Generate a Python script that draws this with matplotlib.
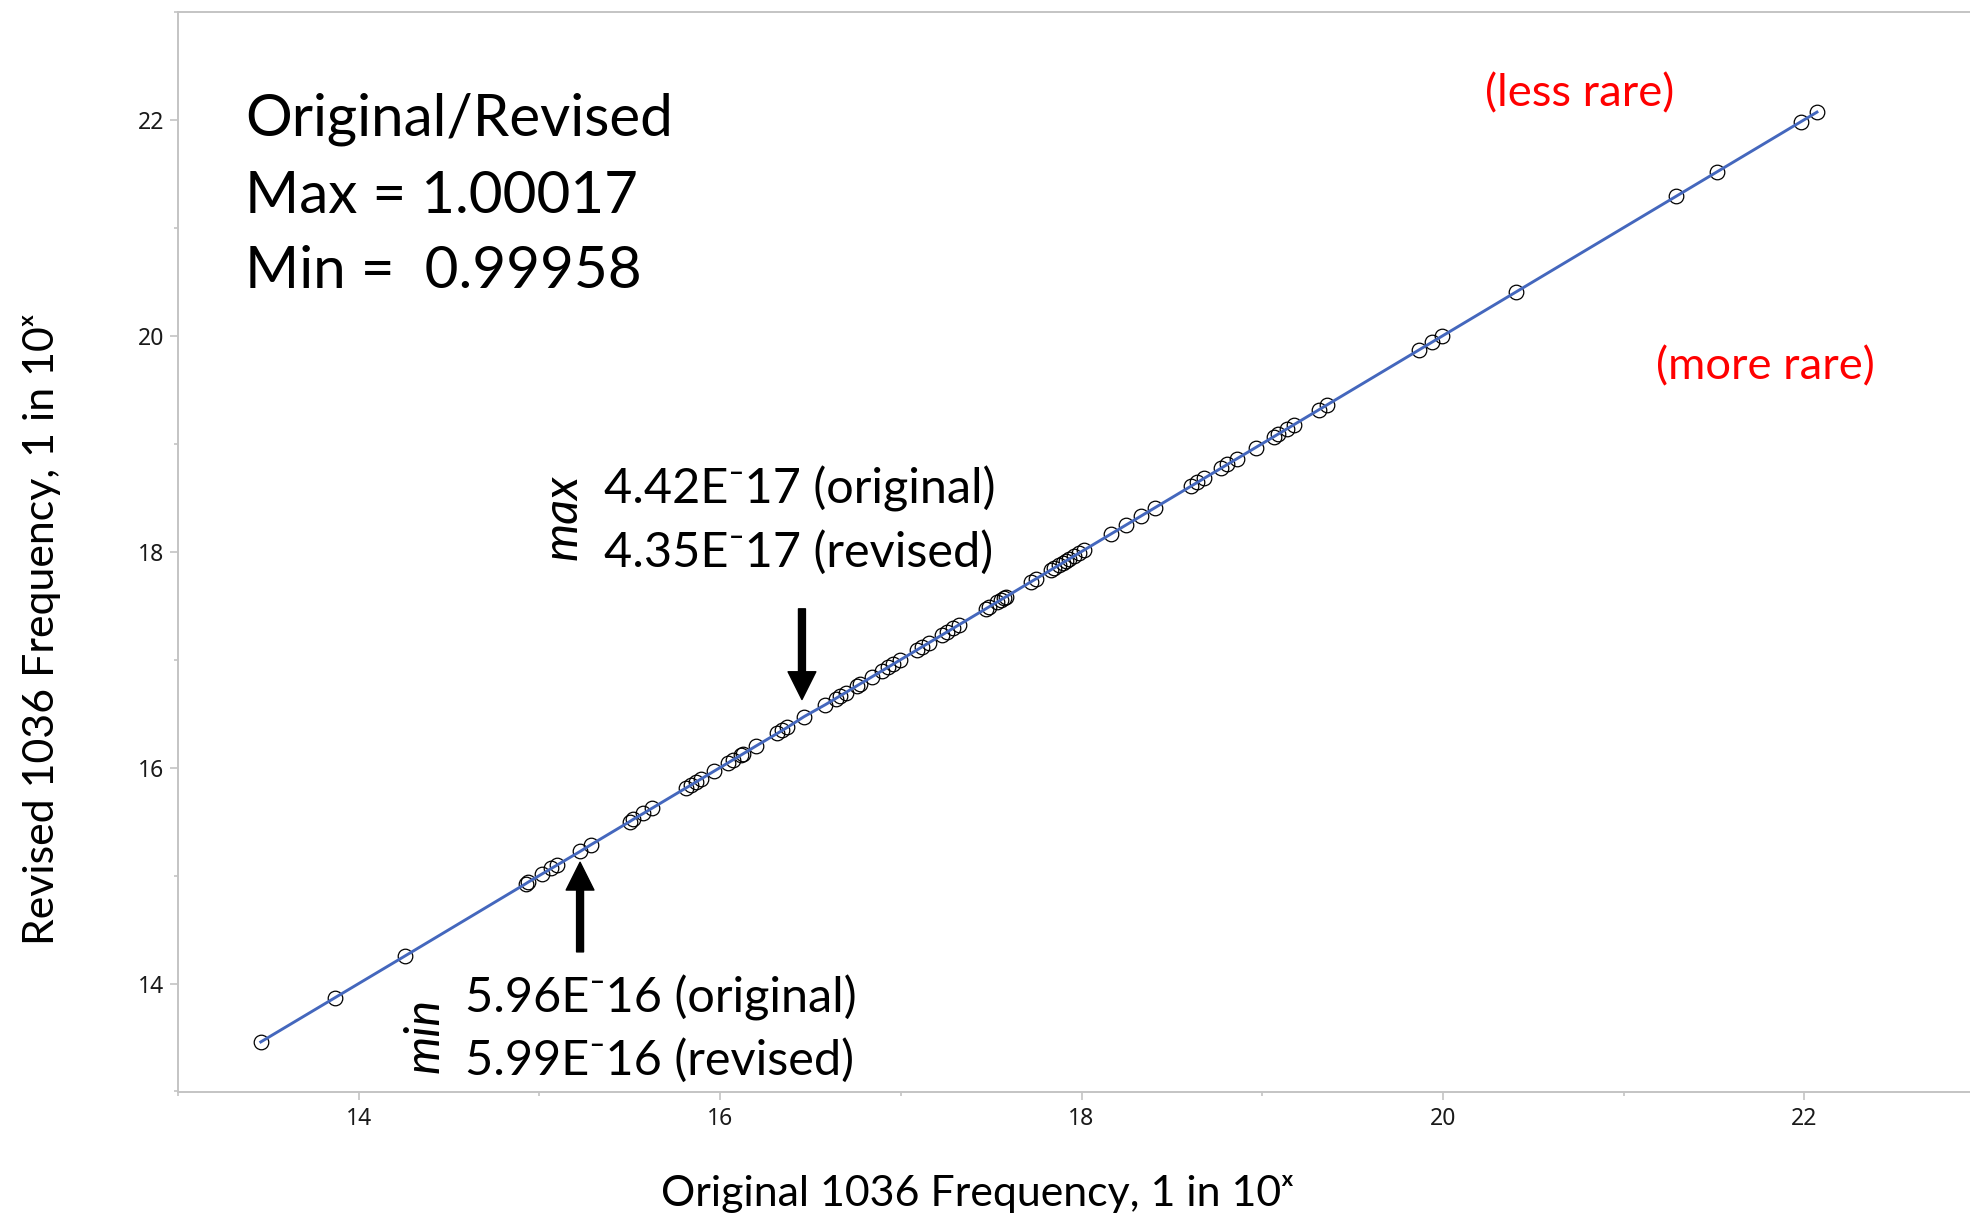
#!/usr/bin/env python3

import matplotlib
from matplotlib.ticker import FixedLocator

matplotlib.use('Agg')

import matplotlib.pyplot as plt  # noqa: E402

# log10 of "1 in 10^x" frequencies
ORIGINAL = [13.458, 13.867, 14.258, 14.924, 14.937, 15.017, 15.066, 15.096, 15.225, 15.284,
            15.500, 15.520, 15.575, 15.625, 15.810, 15.837, 15.865, 15.892, 15.966, 16.044,
            16.073, 16.114, 16.128, 16.196, 16.316, 16.344, 16.371, 16.463, 16.583, 16.639,
            16.662, 16.694, 16.758, 16.773, 16.841, 16.897, 16.928, 16.957, 16.998, 17.091,
            17.118, 17.155, 17.230, 17.257, 17.290, 17.322, 17.470, 17.489, 17.535, 17.553,
            17.572, 17.580, 17.719, 17.747, 17.830, 17.848, 17.876, 17.895, 17.913, 17.931,
            17.959, 17.987, 18.014, 18.162, 18.245, 18.328, 18.405, 18.604, 18.641, 18.678,
            18.770, 18.807, 18.862, 18.964, 19.065, 19.087, 19.139, 19.176, 19.314, 19.357,
            19.870, 19.940, 19.994, 20.404, 21.289, 21.515, 21.980, 22.070]
REVISED = [13.459, 13.867, 14.257, 14.924, 14.938, 15.017, 15.066, 15.095, 15.223, 15.284,
           15.500, 15.521, 15.575, 15.625, 15.810, 15.836, 15.865, 15.892, 15.966, 16.044,
           16.073, 16.114, 16.128, 16.197, 16.316, 16.344, 16.371, 16.470, 16.583, 16.639,
           16.662, 16.694, 16.758, 16.773, 16.841, 16.897, 16.928, 16.957, 16.998, 17.091,
           17.118, 17.155, 17.230, 17.257, 17.290, 17.322, 17.470, 17.489, 17.535, 17.553,
           17.572, 17.580, 17.719, 17.747, 17.830, 17.848, 17.876, 17.895, 17.913, 17.931,
           17.959, 17.987, 18.014, 18.162, 18.245, 18.328, 18.405, 18.604, 18.641, 18.678,
           18.770, 18.807, 18.862, 18.964, 19.065, 19.087, 19.139, 19.176, 19.314, 19.357,
           19.870, 19.940, 19.994, 20.404, 21.289, 21.515, 21.980, 22.070]

MAJOR_TICKS = [14, 16, 18, 20, 22]
MINOR_TICKS = [13, 15, 17, 19, 21, 23]

SUMMARY_LINES = ['Original/Revised', 'Max = 1.00017', 'Min =  0.99958']
MAX_LINES = ['4.42E\u207b17 (original)', '4.35E\u207b17 (revised)']
MIN_LINES = ['5.96E\u207b16 (original)', '5.99E\u207b16 (revised)']
MAX_INDEX = 27
MIN_INDEX = 8

X_LABEL = 'Original 1036 Frequency, 1 in 10\u02e3'
Y_LABEL = 'Revised 1036 Frequency, 1 in 10\u02e3'

TEXT_FONT = ['Lato', 'DejaVu Sans']
TICK_FONT = ['Noto Sans', 'DejaVu Sans']
AXIS_GRAY = '#c4c4c4'
LINE_BLUE = '#4467bd'

W_PX, H_PX = 1970, 1213


def main():
    fig = plt.figure(figsize=(W_PX / 100, H_PX / 100), dpi=100)
    left, right = 178 / W_PX, 1.0
    bottom, top = 1 - 1091.5 / H_PX, 1 - 11.7 / H_PX
    ax = fig.add_axes([left, bottom, right - left, top - bottom])

    ax.plot(ORIGINAL, REVISED, linestyle='none', marker='o', markersize=10.5,
            markerfacecolor='none', markeredgecolor='black', markeredgewidth=0.9, zorder=2)
    ax.plot(ORIGINAL, REVISED, color=LINE_BLUE, linewidth=2.1, zorder=3)

    ax.set_xlim(13, 13 + (W_PX - 178) / 180.7)
    ax.set_ylim(13, 23)

    for name in ('left', 'bottom', 'top'):
        ax.spines[name].set_color(AXIS_GRAY)
        ax.spines[name].set_linewidth(1.4)
    ax.spines['right'].set_visible(False)

    for axis in (ax.xaxis, ax.yaxis):
        axis.set_major_locator(FixedLocator(MAJOR_TICKS))
        axis.set_minor_locator(FixedLocator(MINOR_TICKS))
    ax.tick_params(which='major', length=6, width=1.2, color=AXIS_GRAY,
                   labelsize=16.5, labelcolor='#1a1a1a')
    ax.tick_params(which='minor', length=3, width=1.2, color=AXIS_GRAY)
    ax.tick_params(axis='x', which='major', pad=5)
    ax.tick_params(axis='y', which='major', pad=4)
    for lab in ax.get_xticklabels() + ax.get_yticklabels():
        lab.set_fontfamily(TICK_FONT)

    # summary block, upper left
    for text, ybase in zip(SUMMARY_LINES, [21.85, 21.14, 20.44]):
        ax.text(13.37, ybase, text, fontsize=42, family=TEXT_FONT, va='baseline')

    ax.text(20.233, 22.127, '(less rare)', fontsize=32.7, color='red',
            family=TEXT_FONT, va='baseline')
    ax.text(21.18, 19.59, '(more rare)', fontsize=32.7, color='red',
            family=TEXT_FONT, va='baseline')

    # max annotation
    for text, ybase in zip(MAX_LINES, [18.45, 17.86]):
        ax.text(15.357, ybase, text, fontsize=35, family=TEXT_FONT, va='baseline')
    ax.text(15.13, 18.32, 'max', fontsize=35, family=TEXT_FONT, style='italic',
            rotation=90, ha='center', va='center')
    mx, my = ORIGINAL[MAX_INDEX], REVISED[MAX_INDEX]
    ax.annotate('', xy=(mx - 0.01, my + 0.16), xytext=(mx - 0.01, my + 1.0),
                arrowprops=dict(facecolor='black', edgecolor='black', width=5,
                                headwidth=20, headlength=20))

    # min annotation
    for text, ybase in zip(MIN_LINES, [13.73, 13.15]):
        ax.text(14.59, ybase, text, fontsize=35, family=TEXT_FONT, va='baseline')
    ax.text(14.367, 13.52, 'min', fontsize=35, family=TEXT_FONT, style='italic',
            rotation=90, ha='center', va='center')
    nx, ny = ORIGINAL[MIN_INDEX], REVISED[MIN_INDEX]
    ax.annotate('', xy=(nx, ny - 0.1), xytext=(nx, ny - 0.93),
                arrowprops=dict(facecolor='black', edgecolor='black', width=5,
                                headwidth=20, headlength=20))

    fig.text(661 / W_PX, 1 - 1206 / H_PX, X_LABEL, fontsize=30.9, family=TEXT_FONT,
             ha='left', va='baseline')
    fig.text(54 / W_PX, 1 - 945 / H_PX, Y_LABEL, fontsize=30.9, family=TEXT_FONT,
             rotation=90, rotation_mode='anchor', ha='left', va='baseline')

    fig.savefig('out.png', dpi=100)
    plt.close(fig)


if __name__ == '__main__':
    main()
